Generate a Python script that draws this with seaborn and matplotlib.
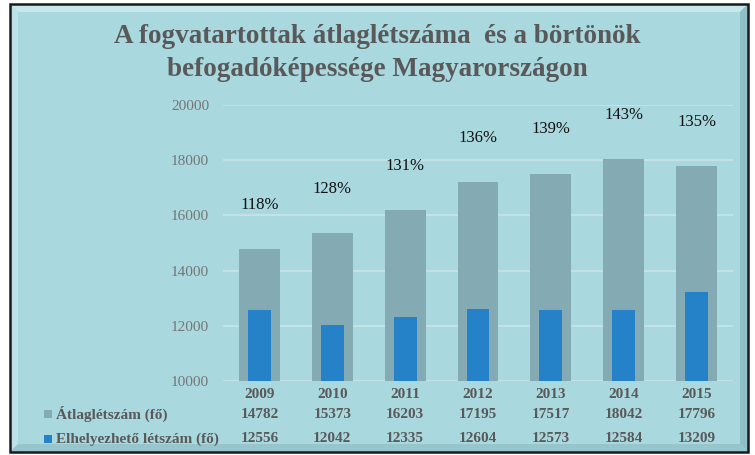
import matplotlib
matplotlib.use("Agg")
import matplotlib.pyplot as plt
import matplotlib.transforms as mtransforms
from matplotlib.patches import Rectangle, Polygon
import seaborn as sns
import pandas as pd

years = ["2009", "2010", "2011", "2012", "2013", "2014", "2015"]
atlag = [14782, 15373, 16203, 17195, 17517, 18042, 17796]
elhely = [12556, 12042, 12335, 12604, 12573, 12584, 13209]
pct_labels = ["118%", "128%", "131%", "136%", "139%", "143%", "135%"]
series_names = ["Átlaglétszám (fő)", "Elhelyezhető létszám (fő)"]
title = "A fogvatartottak átlaglétszáma  és a börtönök\nbefogadóképessége Magyarországon"

sns.set_theme(style="white")
plt.rcParams["font.family"] = ["Liberation Serif", "DejaVu Serif"]

W, H = 755, 455
fig = plt.figure(figsize=(W / 100, H / 100), dpi=100)
fig.patch.set_facecolor("white")

def fx(px):
    return px / W

def fy(py):
    return 1 - py / H

bg = "#A9D8DF"
L, R, T, B = 10, 748, 4, 452
bev = 8
fig.patches.append(Rectangle((fx(L), fy(B)), fx(R - L), fy(T) - fy(B),
                             transform=fig.transFigure, facecolor=bg,
                             edgecolor="none", zorder=-5))
top = Polygon([(fx(L), fy(T)), (fx(R), fy(T)), (fx(R - bev), fy(T + bev)), (fx(L + bev), fy(T + bev))],
              closed=True, transform=fig.transFigure, facecolor="#C6E8ED", edgecolor="none", zorder=-4)
left = Polygon([(fx(L), fy(T)), (fx(L + bev), fy(T + bev)), (fx(L + bev), fy(B - bev)), (fx(L), fy(B))],
               closed=True, transform=fig.transFigure, facecolor="#BCE2E8", edgecolor="none", zorder=-4)
right = Polygon([(fx(R), fy(T)), (fx(R), fy(B)), (fx(R - bev), fy(B - bev)), (fx(R - bev), fy(T + bev))],
                closed=True, transform=fig.transFigure, facecolor="#8FBFC7", edgecolor="none", zorder=-4)
bottom = Polygon([(fx(L), fy(B)), (fx(R), fy(B)), (fx(R - bev), fy(B - bev)), (fx(L + bev), fy(B - bev))],
                 closed=True, transform=fig.transFigure, facecolor="#96C5CC", edgecolor="none", zorder=-4)
for p in (top, left, right, bottom):
    fig.patches.append(p)
fig.patches.append(Rectangle((fx(L), fy(B)), fx(R - L), fy(T) - fy(B),
                             transform=fig.transFigure, facecolor="none",
                             edgecolor="#1a1a1a", linewidth=1.8, zorder=-3))

ax = fig.add_axes([fx(223), fy(381), fx(733 - 223), fy(105) - fy(381)])
ax.set_zorder(2)
ax.patch.set_alpha(0)

df = pd.DataFrame({"year": years, "atlag": atlag, "elhely": elhely})
sns.barplot(data=df, x="year", y="atlag", color="#84AAB3", saturation=1, width=0.56,
            linewidth=0, edgecolor="none", ax=ax, zorder=2)
sns.barplot(data=df, x="year", y="elhely", color="#2682C8", saturation=1, width=0.315,
            linewidth=0, edgecolor="none", ax=ax, zorder=3)

ax.set_ylim(10000, 20000)
ax.set_xlim(-0.5, 6.5)
ax.set_yticks(range(10000, 20001, 2000))
ax.yaxis.grid(True, color="#CBE4E8", linewidth=1.2, zorder=1)
ax.set_axisbelow(True)
for s in ax.spines.values():
    s.set_visible(False)
ax.set_xlabel("")
ax.set_ylabel("")
ax.tick_params(axis="y", length=0, pad=10, labelsize=11, labelcolor="#767676")
ax.tick_params(axis="x", length=0, pad=5, labelsize=11, labelcolor="#595959")
for t in ax.get_xticklabels():
    t.set_fontweight("bold")

for i, (v, lab) in enumerate(zip(atlag, pct_labels)):
    ax.text(i, v + 1600, lab, ha="center", va="center", fontsize=12, color="#111111", zorder=4)

# data table
row_y = [414, 439]
rows = [atlag, elhely]
colors = ["#84AAB3", "#2682C8"]
blend = mtransforms.blended_transform_factory(ax.transData, fig.transFigure)
for r, (vals, name, col) in enumerate(zip(rows, series_names, colors)):
    ypos = fy(row_y[r])
    for i, v in enumerate(vals):
        ax.text(i, ypos, str(v), transform=blend, clip_on=False,
                ha="center", va="center", fontsize=11, fontweight="bold", color="#595959")
    fig.text(fx(56), ypos, name, ha="left", va="center", fontsize=11, fontweight="bold", color="#595959")
    fig.patches.append(Rectangle((fx(44), fy(row_y[r] + 4)), fx(8), fy(row_y[r] - 4) - fy(row_y[r] + 4),
                                 transform=fig.transFigure, facecolor=col, edgecolor="none", zorder=1))

fig.text(0.5, fy(53), title, ha="center", va="center", fontsize=19.5, fontweight="bold",
         color="#595959", linespacing=1.38)

fig.savefig("out.png", dpi=100)
